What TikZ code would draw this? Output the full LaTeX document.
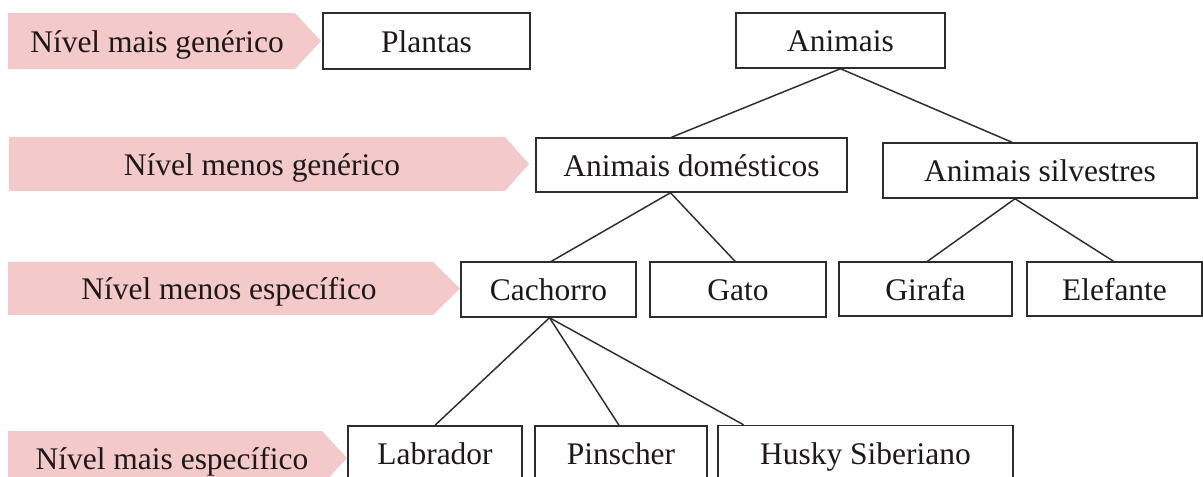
\documentclass[tikz,border=0pt]{standalone}
\usepackage{fontspec}
\setmainfont{Liberation Serif}
\usetikzlibrary{calc}
\definecolor{pinkfill}{RGB}{243,201,202}
\definecolor{boxline}{RGB}{45,45,45}
\definecolor{txt}{RGB}{30,25,25}
\begin{document}
\begin{tikzpicture}[x=0.75pt,y=-0.75pt,
  lbl/.style={text=txt, inner sep=0pt, text height=18pt, text depth=1pt, font=\fontsize{23.6}{28}\selectfont},
  box/.style={lbl, draw=boxline, line width=1.1pt, fill=white},
  lvl/.style={fill=pinkfill},
  link/.style={draw=boxline, line width=1.1pt}]
\useasboundingbox (0,0) rectangle (1203,477);
\clip (0,0) rectangle (1203,477);
% level arrows
\fill[lvl] (8,13) -- (295,13) -- (321,41) -- (295,69) -- (8,69) -- cycle;
\node[lbl] (l1) at (157,41) {Nível mais genérico};
\fill[lvl] (9,137) -- (505,137) -- (529,164) -- (505,191) -- (9,191) -- cycle;
\node[lbl] (l2) at (262,164) {Nível menos genérico};
\fill[lvl] (8,262) -- (433,262) -- (460,288.5) -- (433,315) -- (8,315) -- cycle;
\node[lbl] (l3) at (229,288.5) {Nível menos específico};
\fill[lvl] (8,431) -- (322,431) -- (347,458) -- (322,485) -- (8,485) -- cycle;
\node[lbl] (l4) at (172,458) {Nível mais específico};
% boxes
\node[box, minimum width=155.25pt, minimum height=42pt] (plantas) at (426.5,41) {Plantas};
\node[box, minimum width=156.75pt, minimum height=41.25pt] (animais) at (840.5,40.5) {Animais};
\node[box, minimum width=233.25pt, minimum height=40.5pt] (dom) at (691.5,165) {Animais domésticos};
\node[box, minimum width=235.5pt, minimum height=41.25pt] (silv) at (1040,170.5) {Animais silvestres};
\node[box, minimum width=131.25pt, minimum height=41.25pt] (cach) at (548.5,289.5) {Cachorro};
\node[box, minimum width=132pt, minimum height=41.25pt] (gato) at (738,289.5) {Gato};
\node[box, minimum width=129.75pt, minimum height=40.5pt] (gir) at (925.5,289) {Girafa};
\node[box, minimum width=131.25pt, minimum height=40.5pt] (elef) at (1114.5,289) {Elefante};
\node[box, minimum width=130.5pt, minimum height=41.25pt] (lab) at (435,453.5) {Labrador};
\node[box, minimum width=129pt, minimum height=41.25pt] (pin) at (621,453.5) {Pinscher};
\node[box, minimum width=221.25pt, minimum height=41.25pt] (husky) at (865.5,453) {Husky Siberiano};
% connectors
\draw[link] (animais.south) -- ($(dom.north)+(-20,0)$);
\draw[link] (animais.south) -- ($(silv.north)+(-28,0)$);
\draw[link] ($(dom.south)+(-21,0)$) -- ($(cach.north)+(3,0)$);
\draw[link] ($(dom.south)+(-21,0)$) -- ($(gato.north)+(-3,0)$);
\draw[link] ($(silv.south)+(-25,0)$) -- ($(gir.north)+(2,0)$);
\draw[link] ($(silv.south)+(-25,0)$) -- ($(elef.north)+(-1,0)$);
\draw[link] ($(cach.south)+(1,0)$) -- (lab.north);
\draw[link] ($(cach.south)+(1,0)$) -- ($(pin.north)+(-2,0)$);
\draw[link] ($(cach.south)+(1,0)$) -- ($(husky.north)+(-122,0)$);
\end{tikzpicture}
\end{document}
